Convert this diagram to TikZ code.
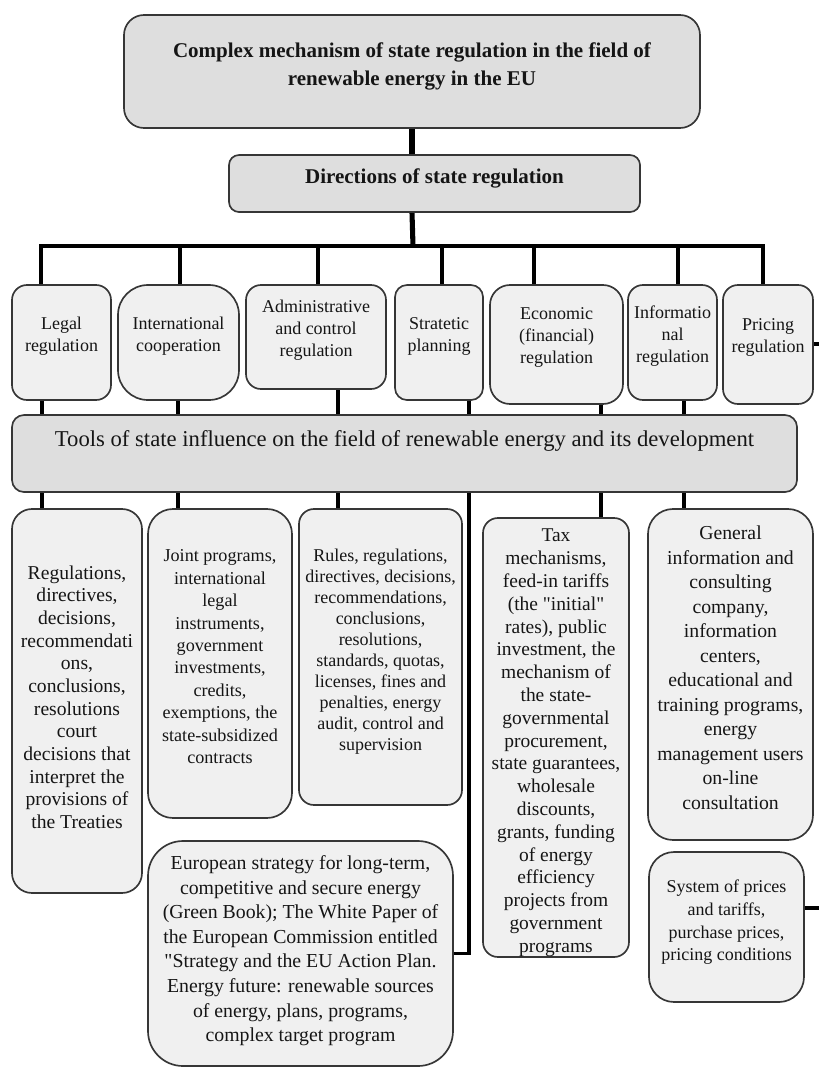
\documentclass[tikz,border=0pt]{standalone}
\usepackage{fontspec}
\setmainfont{Liberation Serif}[Ligatures=TeXOff]
\usetikzlibrary{backgrounds}
\definecolor{boxline}{HTML}{363636}
\definecolor{darkfill}{HTML}{DEDEDE}
\definecolor{lightfill}{HTML}{F0F0F0}
\definecolor{txtcol}{HTML}{151515}
\newcommand{\fsz}[2]{\fontsize{#1}{#2}\selectfont}
\tikzset{
  box/.style={draw=boxline, line width=1.25pt, inner sep=0pt},
  dbox/.style={box, fill=darkfill},
  lbox/.style={box, fill=lightfill},
  wh/.style 2 args={minimum width=#1*0.75pt, minimum height=#2*0.75pt},
  rc/.style={rounded corners=#1*0.75pt},
  txt/.style={align=center, inner sep=0pt, text=txtcol},
  trunk/.style={line width=3.8pt},
  barline/.style={line width=3.2pt, line cap=rect},
  conn/.style={line width=2.5pt},
}
\begin{document}
\begin{tikzpicture}[x=0.75pt,y=-0.75pt]
\useasboundingbox (0,0) rectangle (819,1068);

% top level
\node[dbox, wh={576}{113}, rc=20] (top) at (412,71.5) {};
\node[txt, font=\fsz{15.75}{21}\bfseries] (topT) at ([yshift=4pt]top.center)
  {Complex mechanism of state regulation in the field of\\renewable energy in the EU};
\node[dbox, wh={411}{57}, rc=10] (dir) at (434.5,183.5) {};
\node[txt, font=\fsz{15.75}{21}\bfseries] (dirT) at ([yshift=4pt]dir.center) {Directions of state regulation};

% directions row
\node[lbox, wh={99}{115}, rc=15] (legal) at (61.5,342.5) {};
\node[lbox, wh={121}{115}, rc=30] (intl) at (178.5,342.5) {};
\node[lbox, wh={140}{104}, rc=15] (admin) at (316,337) {};
\node[lbox, wh={88}{115}, rc=12] (strat) at (439,342.5) {};
\node[lbox, wh={133}{119}, rc=20] (econ) at (556.5,344.5) {};
\node[lbox, wh={89}{115}, rc=15] (info) at (672.5,342.5) {};
\node[lbox, wh={90}{119}, rc=15] (pricing) at (768,344.5) {};
\begin{scope}[every node/.style={txt, font=\fsz{13.5}{16.5}}]
\node (legalT) at ([yshift=4.5pt]legal.center) {Legal\\regulation};
\node (intlT) at ([yshift=4.5pt]intl.center) {International\\cooperation};
\node (adminT) at ([yshift=5pt]admin.center) {Administrative\\and control\\regulation};
\node (stratT) at ([yshift=4.5pt]strat.center) {Stratetic\\planning};
\node (econT) at ([yshift=5pt]econ.center) {Economic\\(financial)\\regulation};
\node (infoT) at ([yshift=5pt]info.center) {Informatio\\nal\\regulation};
\node (pricingT) at ([yshift=5pt]pricing.center) {Pricing\\regulation};
\end{scope}

% tools bar
\node[dbox, wh={785}{77}, rc=12] (tools) at (404.5,453.5) {};
\node[txt, font=\fsz{17}{20}] (toolsT) at ([yshift=9.5pt]tools.center)
  {Tools of state influence on the field of renewable energy and its development};

% bottom boxes
\node[lbox, wh={130}{384}, rc=20] (regs) at (77,701) {};
\node[lbox, wh={144}{309}, rc=25] (joint) at (220,663.5) {};
\node[lbox, wh={163}{296}, rc=15] (rules) at (380.5,657) {};
\node[lbox, wh={146}{439}, rc=15] (tax) at (556,737.5) {};
\node[lbox, wh={165}{331}, rc=25] (general) at (730.5,674.5) {};
\node[lbox, wh={305}{225}, rc=35] (europe) at (300.5,953.5) {};
\node[lbox, wh={155}{150}, rc=25] (system) at (726.5,927) {};

\node[txt, font=\fsz{14.7}{17}] (regsT) at ([yshift=3pt]regs.center)
  {Regulations,\\directives,\\decisions,\\recommendati\\ons,\\conclusions,\\resolutions\\court\\decisions that\\interpret the\\provisions of\\the Treaties};
\node[txt, font=\fsz{13.6}{16.8}] (jointT) at ([yshift=5pt]joint.center)
  {Joint programs,\\international\\legal\\instruments,\\government\\investments,\\credits,\\exemptions, the\\state-subsidized\\contracts};
\node[txt, font=\fsz{13.5}{15.75}] (rulesT) at ([yshift=4pt]rules.center)
  {Rules, regulations,\\directives, decisions,\\recommendations,\\conclusions,\\resolutions,\\standards, quotas,\\licenses, fines and\\penalties, energy\\audit, control and\\supervision};
\node[txt, font=\fsz{14.6}{17.1}] (taxT) at ([yshift=-4pt]tax.center)
  {Tax\\mechanisms,\\feed-in tariffs\\(the "initial"\\rates), public\\investment, the\\mechanism of\\the state-\\governmental\\procurement,\\state guarantees,\\wholesale\\discounts,\\grants, funding\\of energy\\efficiency\\projects from\\government\\programs};
\node[txt, font=\fsz{14.8}{18.4}] (generalT) at ([yshift=5pt]general.center)
  {General\\information and\\consulting\\company,\\information\\centers,\\educational and\\training programs,\\energy\\management users\\on-line\\consultation};
\node[txt, font=\fsz{14.85}{18.45}] (europeT) at ([yshift=2pt]europe.center)
  {European strategy for long-term,\\competitive and secure energy\\(Green Book); The White Paper of\\the European Commission entitled\\"Strategy and the EU Action Plan.\\Energy future: renewable sources\\of energy, plans, programs,\\complex target program};
\node[txt, font=\fsz{13.5}{16.9}] (systemT) at ([yshift=3.5pt]system.center)
  {System of prices\\and tariffs,\\purchase prices,\\pricing conditions};

% connector coordinates
\coordinate (bm) at (413,246);
\coordinate (b1) at (41,246);
\coordinate (b2) at (180,246);
\coordinate (b3) at (318,246);
\coordinate (b4) at (442,246);
\coordinate (b5) at (534,246);
\coordinate (b6) at (678,246);
\coordinate (b7) at (763,246);
\coordinate (c1) at (42,415);
\coordinate (c2) at (178,415);
\coordinate (c3) at (338,415);
\coordinate (c4) at (469,415);
\coordinate (c5) at (601,415);
\coordinate (c6) at (684,415);
\coordinate (pe) at (819,344);
\coordinate (se) at (819,908);

\begin{scope}[on background layer]
\draw[trunk] (top.south) -- (top.south |- dir.north);
\draw[trunk] (top.south |- dir.south) -- (bm);
\draw[conn] (b1 |- legal.north) -- (b1) -- (b7) -- (b7 |- pricing.north);
\draw[barline] (b2) -- (b6);
\draw[conn] (b2) -- (b2 |- intl.north);
\draw[conn] (b3) -- (b3 |- admin.north);
\draw[conn] (b4) -- (b4 |- strat.north);
\draw[conn] (b5) -- (b5 |- econ.north);
\draw[conn] (b6) -- (b6 |- info.north);
% rows to tools
\draw[conn] (c1 |- legal.south) -- (c1);
\draw[conn] (c2 |- intl.south) -- (c2);
\draw[conn] (c3 |- admin.south) -- (c3);
\draw[conn] (c4 |- strat.south) -- (c4);
\draw[conn] (c5 |- econ.south) -- (c5);
\draw[conn] (c6 |- info.south) -- (c6);
% tools to tool boxes
\draw[conn] (c1 |- tools.south) -- (c1 |- regs.north);
\draw[conn] (c2 |- tools.south) -- (c2 |- joint.north);
\draw[conn] (c3 |- tools.south) -- (c3 |- rules.north);
\draw[conn] (c4 |- tools.south) |- (europe.east);
\draw[conn] (c5 |- tools.south) -- (c5 |- tax.north);
\draw[conn] (c6 |- tools.south) -- (c6 |- general.north);
% right side
\draw[conn] (pricing.east |- pe) -- (pe);
\draw[conn] (system.east |- se) -- (se);
\end{scope}
\end{tikzpicture}
\end{document}
